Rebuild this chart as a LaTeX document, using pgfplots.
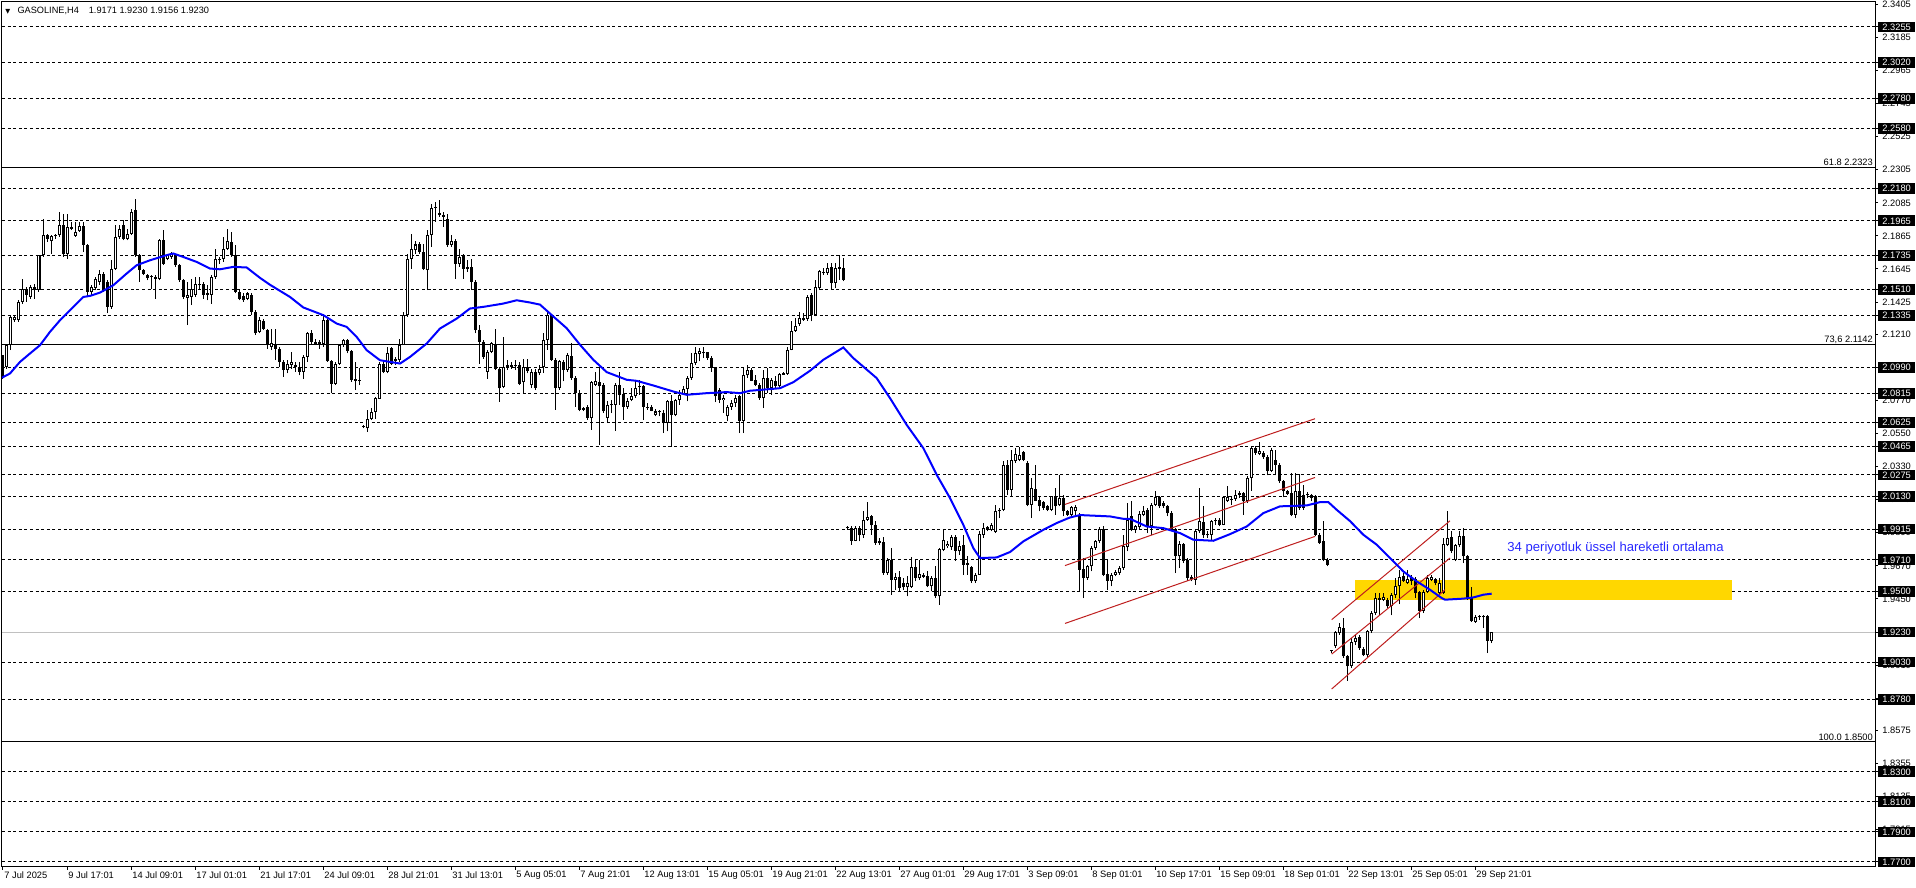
\documentclass[border=0pt]{standalone}
\usepackage{pgfplots}
\usepackage{pgfplotstable}
\pgfplotsset{compat=1.18}
\usepackage{fontspec}
\setmainfont{Liberation Sans}
\newfontfamily\dejavu{DejaVu Sans}
\definecolor{emablue}{RGB}{0,0,255}
\definecolor{chanred}{RGB}{190,30,30}
\definecolor{zone}{RGB}{255,215,0}
\definecolor{txtblue}{RGB}{40,40,255}
\definecolor{curgray}{RGB}{192,192,192}

\pgfplotstableread{
o h l c
2.1072 2.1072 2.0916 2.0927
2.0994 2.1149 2.0983 2.1138
2.1138 2.1338 2.1105 2.1326
2.1304 2.1338 2.1293 2.1326
2.1304 2.1437 2.1293 2.1426
2.1426 2.1581 2.1415 2.1515
2.1515 2.1526 2.1426 2.1471
2.1459 2.1537 2.1448 2.1526
2.1526 2.1548 2.1448 2.1504
2.1504 2.1737 2.1493 2.1737
2.1737 2.1980 2.1725 2.1870
2.1870 2.1881 2.1825 2.1847
2.1830 2.1870 2.1748 2.1863
2.1863 2.1881 2.1847 2.1874
2.1870 2.2025 2.1859 2.1936
2.1936 2.2014 2.1725 2.1748
2.1748 2.2014 2.1714 2.1925
2.1914 2.1958 2.1903 2.1925
2.1865 2.1958 2.1859 2.1892
2.1896 2.1958 2.1892 2.1932
2.1932 2.1958 2.1759 2.1803
2.1803 2.1814 2.1459 2.1493
2.1493 2.1537 2.1471 2.1526
2.1519 2.1592 2.1504 2.1581
2.1559 2.1637 2.1537 2.1615
2.1615 2.1626 2.1493 2.1504
2.1559 2.1570 2.1349 2.1393
2.1393 2.1703 2.1382 2.1648
2.1648 2.1936 2.1637 2.1859
2.1859 2.1936 2.1847 2.1914
2.1936 2.1969 2.1836 2.1847
2.1847 2.1914 2.1836 2.1881
2.1881 2.2047 2.1870 2.2025
2.2036 2.2113 2.1725 2.1737
2.1737 2.1748 2.1559 2.1637
2.1637 2.1648 2.1604 2.1615
2.1604 2.1615 2.1570 2.1586
2.1599 2.1608 2.1515 2.1592
2.1592 2.1604 2.1448 2.1577
2.1581 2.1847 2.1570 2.1836
2.1836 2.1903 2.1670 2.1681
2.1714 2.1748 2.1703 2.1737
2.1725 2.1759 2.1714 2.1748
2.1737 2.1748 2.1659 2.1670
2.1670 2.1681 2.1559 2.1570
2.1570 2.1581 2.1448 2.1459
2.1453 2.1559 2.1271 2.1471
2.1459 2.1581 2.1404 2.1515
2.1471 2.1592 2.1459 2.1548
2.1548 2.1592 2.1515 2.1537
2.1548 2.1559 2.1448 2.1471
2.1482 2.1537 2.1437 2.1475
2.1475 2.1604 2.1415 2.1592
2.1592 2.1781 2.1581 2.1714
2.1703 2.1725 2.1681 2.1714
2.1714 2.1859 2.1692 2.1781
2.1781 2.1914 2.1770 2.1830
2.1825 2.1892 2.1725 2.1737
2.1737 2.1803 2.1482 2.1493
2.1493 2.1504 2.1437 2.1448
2.1466 2.1482 2.1426 2.1437
2.1448 2.1493 2.1437 2.1482
2.1475 2.1482 2.1338 2.1360
2.1360 2.1371 2.1205 2.1216
2.1227 2.1326 2.1216 2.1304
2.1298 2.1315 2.1238 2.1249
2.1238 2.1249 2.1116 2.1138
2.1127 2.1249 2.1105 2.1154
2.1138 2.1249 2.1038 2.1116
2.1116 2.1127 2.0994 2.1027
2.1027 2.1038 2.0927 2.0972
2.0972 2.1038 2.0950 2.1016
2.1005 2.1094 2.0983 2.1027
2.1005 2.1027 2.0961 2.0994
2.0994 2.1027 2.0938 2.0961
2.0961 2.1072 2.0916 2.1060
2.1060 2.1227 2.1027 2.1216
2.1216 2.1238 2.1149 2.1160
2.1160 2.1182 2.1138 2.1149
2.1156 2.1171 2.1116 2.1149
2.1149 2.1338 2.1127 2.1304
2.1304 2.1326 2.1027 2.1032
2.1032 2.1038 2.0817 2.0883
2.0883 2.1027 2.0872 2.1016
2.1016 2.1149 2.1005 2.1138
2.1138 2.1182 2.1127 2.1171
2.1171 2.1182 2.1083 2.1098
2.1098 2.1105 2.0894 2.0905
2.0910 2.1027 2.0839 2.0903
2.0905 2.0987 2.0872 2.0899
2.0595 2.0606 2.0584 2.0595
2.0584 2.0706 2.0562 2.0650
2.0650 2.0717 2.0639 2.0695
2.0695 2.0794 2.0650 2.0788
2.0783 2.1027 2.0779 2.1016
2.1016 2.1038 2.0950 2.0961
2.0961 2.1127 2.0950 2.1083
2.1120 2.1127 2.1005 2.1016
2.1032 2.1060 2.1005 2.1043
2.1038 2.1182 2.1027 2.1142
2.1138 2.1360 2.1138 2.1338
2.1338 2.1748 2.1326 2.1714
2.1714 2.1881 2.1648 2.1781
2.1770 2.1830 2.1748 2.1808
2.1808 2.1825 2.1748 2.1759
2.1759 2.1814 2.1637 2.1648
2.1637 2.1903 2.1504 2.1870
2.1870 2.2080 2.1792 2.2051
2.2051 2.2091 2.1958 2.2058
2.2020 2.2102 2.1992 2.2007
2.2003 2.2025 2.1925 2.1992
2.1980 2.2014 2.1792 2.1803
2.1803 2.1870 2.1792 2.1830
2.1830 2.1847 2.1581 2.1681
2.1681 2.1781 2.1659 2.1725
2.1737 2.1748 2.1581 2.1648
2.1655 2.1703 2.1626 2.1643
2.1655 2.1714 2.1504 2.1559
2.1559 2.1570 2.1216 2.1238
2.1238 2.1271 2.1016 2.1160
2.1160 2.1171 2.1049 2.1060
2.0961 2.1105 2.0916 2.1094
2.1094 2.1160 2.1083 2.1154
2.1149 2.1249 2.0972 2.0983
2.0983 2.0994 2.0761 2.0850
2.0861 2.1193 2.0850 2.0994
2.0994 2.1038 2.0972 2.1005
2.1005 2.1027 2.0983 2.0994
2.1009 2.1038 2.0972 2.0998
2.1005 2.1027 2.0872 2.0883
2.0890 2.1049 2.0817 2.0994
2.0994 2.1049 2.0950 2.0965
2.0872 2.0983 2.0850 2.0961
2.0961 2.0983 2.0839 2.0854
2.0950 2.1005 2.0938 2.0983
2.0996 2.1218 2.0952 2.1174
2.1174 2.1362 2.1107 2.1340
2.1336 2.1345 2.1034 2.1041
2.1041 2.1052 2.0708 2.0852
2.0852 2.1041 2.0841 2.1030
2.1025 2.1041 2.0897 2.0974
2.0974 2.1085 2.0963 2.1074
2.1063 2.1152 2.0908 2.0919
2.0923 2.0930 2.0730 2.0819
2.0819 2.0841 2.0697 2.0708
2.0719 2.0730 2.0697 2.0708
2.0726 2.0742 2.0642 2.0653
2.0653 2.0897 2.0575 2.0890
2.0875 2.0963 2.0864 2.0897
2.0890 2.0996 2.0475 2.0864
2.0875 2.0886 2.0686 2.0697
2.0653 2.0764 2.0620 2.0742
2.0737 2.0775 2.0686 2.0746
2.0742 2.0886 2.0568 2.0875
2.0875 2.0963 2.0742 2.0808
2.0812 2.0852 2.0642 2.0730
2.0730 2.0786 2.0715 2.0764
2.0775 2.0852 2.0764 2.0801
2.0797 2.0897 2.0786 2.0852
2.0857 2.0908 2.0808 2.0868
2.0868 2.0875 2.0642 2.0730
2.0730 2.0753 2.0708 2.0719
2.0730 2.0742 2.0697 2.0702
2.0671 2.0715 2.0664 2.0697
2.0693 2.0708 2.0664 2.0699
2.0686 2.0708 2.0553 2.0620
2.0620 2.0775 2.0564 2.0764
2.0768 2.0808 2.0464 2.0671
2.0671 2.0781 2.0664 2.0773
2.0775 2.0841 2.0742 2.0808
2.0812 2.0864 2.0808 2.0848
2.0848 2.0930 2.0764 2.0919
2.0919 2.1085 2.0908 2.1019
2.1019 2.1129 2.1008 2.1085
2.1078 2.1118 2.1030 2.1101
2.1083 2.1129 2.1052 2.1090
2.1090 2.1096 2.1041 2.1052
2.1052 2.1063 2.0963 2.0985
2.0990 2.0996 2.0759 2.0797
2.0841 2.0852 2.0753 2.0775
2.0775 2.0808 2.0686 2.0790
2.0664 2.0742 2.0631 2.0730
2.0730 2.0775 2.0708 2.0753
2.0753 2.0808 2.0730 2.0790
2.0797 2.0808 2.0553 2.0635
2.0635 2.0996 2.0553 2.0941
2.0937 2.1008 2.0919 2.0970
2.0974 2.0985 2.0897 2.0901
2.0908 2.0941 2.0864 2.0875
2.0875 2.0886 2.0775 2.0786
2.0786 2.0974 2.0719 2.0923
2.0923 2.0985 2.0819 2.0852
2.0852 2.0919 2.0808 2.0908
2.0901 2.0930 2.0852 2.0864
2.0864 2.0952 2.0852 2.0945
2.0941 2.0963 2.0941 2.0952
2.0945 2.1123 2.0941 2.1107
2.1107 2.1296 2.1103 2.1234
2.1234 2.1318 2.1229 2.1269
2.1278 2.1362 2.1269 2.1318
2.1318 2.1351 2.1300 2.1307
2.1313 2.1473 2.1300 2.1462
2.1473 2.1484 2.1296 2.1340
2.1340 2.1573 2.1329 2.1522
2.1518 2.1639 2.1506 2.1633
2.1617 2.1650 2.1606 2.1624
2.1617 2.1684 2.1606 2.1650
2.1655 2.1684 2.1506 2.1551
2.1551 2.1684 2.1517 2.1650
2.1655 2.1739 2.1573 2.1646
2.1650 2.1717 2.1562 2.1573
1.9921 1.9932 1.9910 1.9921
1.9921 1.9932 1.9810 1.9837
1.9837 1.9932 1.9833 1.9921
1.9921 1.9932 1.9833 1.9873
1.9873 2.0032 1.9855 1.9977
1.9977 2.0094 1.9970 1.9992
1.9999 2.0010 1.9877 1.9939
1.9943 1.9966 1.9810 1.9822
1.9833 1.9855 1.9810 1.9822
1.9828 1.9859 1.9611 1.9622
1.9622 1.9722 1.9611 1.9711
1.9711 1.9788 1.9478 1.9578
1.9578 1.9622 1.9511 1.9595
1.9593 1.9633 1.9500 1.9522
1.9555 1.9589 1.9511 1.9527
1.9527 1.9600 1.9467 1.9555
1.9527 1.9726 1.9522 1.9660
1.9660 1.9711 1.9567 1.9589
1.9589 1.9711 1.9578 1.9615
1.9606 1.9622 1.9589 1.9597
1.9600 1.9633 1.9527 1.9533
1.9533 1.9600 1.9500 1.9589
1.9589 1.9666 1.9456 1.9467
1.9467 1.9788 1.9412 1.9782
1.9777 1.9910 1.9766 1.9839
1.9799 1.9833 1.9788 1.9815
1.9793 1.9877 1.9777 1.9859
1.9859 1.9877 1.9704 1.9771
1.9766 1.9833 1.9744 1.9799
1.9810 1.9873 1.9611 1.9677
1.9688 1.9733 1.9611 1.9677
1.9660 1.9666 1.9555 1.9567
1.9567 1.9622 1.9555 1.9606
1.9611 1.9899 1.9611 1.9881
1.9877 1.9955 1.9855 1.9921
1.9926 1.9932 1.9899 1.9910
1.9910 1.9955 1.9899 1.9939
1.9895 2.0076 1.9888 2.0032
2.0032 2.0054 1.9988 2.0043
2.0043 2.0365 2.0032 2.0338
2.0338 2.0376 2.0143 2.0176
2.0176 2.0442 2.0132 2.0376
2.0365 2.0454 2.0354 2.0414
2.0376 2.0458 2.0365 2.0409
2.0427 2.0436 2.0365 2.0376
2.0354 2.0365 2.0065 2.0076
2.0076 2.0254 1.9988 2.0187
2.0183 2.0343 2.0099 2.0103
2.0110 2.0132 2.0032 2.0065
2.0094 2.0099 2.0043 2.0054
2.0065 2.0076 2.0032 2.0043
2.0043 2.0138 2.0032 2.0132
2.0132 2.0187 2.0010 2.0065
2.0072 2.0276 2.0065 2.0121
2.0121 2.0143 1.9999 2.0032
2.0032 2.0043 1.9999 2.0010
2.0010 2.0065 1.9988 2.0059
2.0032 2.0076 2.0010 2.0059
2.0010 2.0021 1.9500 1.9644
1.9651 1.9722 1.9456 1.9589
1.9589 1.9677 1.9578 1.9666
1.9666 1.9800 1.9633 1.9788
1.9788 1.9844 1.9777 1.9833
1.9833 1.9926 1.9822 1.9915
1.9915 1.9932 1.9600 1.9611
1.9615 1.9711 1.9511 1.9571
1.9571 1.9622 1.9533 1.9611
1.9611 1.9644 1.9600 1.9629
1.9622 1.9666 1.9611 1.9655
1.9655 1.9877 1.9644 1.9800
1.9793 2.0088 1.9766 1.9977
1.9999 2.0099 1.9899 1.9910
1.9910 1.9944 1.9888 1.9932
1.9926 2.0032 1.9917 2.0015
2.0010 2.0066 1.9999 2.0037
2.0043 2.0054 1.9888 1.9932
1.9932 2.0088 1.9877 2.0077
2.0077 2.0165 2.0066 2.0125
2.0125 2.0132 2.0054 2.0066
2.0088 2.0099 2.0054 2.0066
2.0066 2.0077 1.9999 2.0021
2.0021 2.0032 1.9899 1.9910
1.9915 1.9921 1.9622 1.9733
1.9733 1.9833 1.9655 1.9815
1.9815 1.9822 1.9689 1.9704
1.9711 1.9722 1.9571 1.9589
1.9593 1.9611 1.9567 1.9584
1.9578 1.9910 1.9544 1.9899
1.9899 2.0187 1.9888 1.9970
1.9961 2.0066 1.9855 1.9873
1.9881 1.9899 1.9855 1.9873
1.9877 1.9977 1.9844 1.9970
1.9966 1.9988 1.9944 1.9970
1.9977 1.9988 1.9932 1.9944
1.9944 2.0130 1.9939 2.0125
2.0099 2.0199 2.0094 2.0125
2.0108 2.0132 2.0077 2.0116
2.0116 2.0176 2.0103 2.0143
2.0143 2.0165 2.0121 2.0154
2.0154 2.0161 2.0010 2.0099
2.0099 2.0265 2.0088 2.0254
2.0254 2.0465 2.0170 2.0453
2.0453 2.0465 2.0409 2.0420
2.0414 2.0493 2.0405 2.0431
2.0420 2.0431 2.0383 2.0391
2.0391 2.0409 2.0272 2.0303
2.0303 2.0453 2.0294 2.0442
2.0376 2.0442 2.0272 2.0343
2.0343 2.0354 2.0221 2.0232
2.0236 2.0243 2.0125 2.0165
2.0165 2.0176 2.0143 2.0148
2.0154 2.0287 1.9999 2.0006
2.0010 2.0287 1.9988 2.0165
2.0165 2.0281 2.0043 2.0054
2.0143 2.0210 2.0043 2.0054
2.0139 2.0161 2.0121 2.0148
2.0139 2.0148 2.0099 2.0121
2.0132 2.0143 1.9866 1.9877
1.9877 1.9888 1.9815 1.9822
1.9833 1.9966 1.9700 1.9711
1.9711 1.9722 1.9666 1.9677
1.9101 1.9112 1.9090 1.9101
1.9134 1.9239 1.9123 1.9230
1.9223 1.9290 1.9212 1.9261
1.9256 1.9323 1.9057 1.9068
1.9068 1.9079 1.8906 1.9001
1.9001 1.9190 1.8990 1.9163
1.9163 1.9212 1.9146 1.9190
1.9194 1.9212 1.9112 1.9123
1.9119 1.9128 1.9068 1.9075
1.9075 1.9245 1.9061 1.9234
1.9234 1.9367 1.9223 1.9356
1.9356 1.9489 1.9345 1.9456
1.9445 1.9489 1.9345 1.9456
1.9445 1.9489 1.9434 1.9460
1.9445 1.9456 1.9389 1.9400
1.9400 1.9489 1.9341 1.9474
1.9474 1.9589 1.9456 1.9534
1.9534 1.9644 1.9416 1.9593
1.9600 1.9622 1.9562 1.9571
1.9556 1.9644 1.9549 1.9584
1.9593 1.9611 1.9545 1.9567
1.9584 1.9593 1.9456 1.9489
1.9494 1.9500 1.9323 1.9372
1.9372 1.9511 1.9356 1.9496
1.9496 1.9607 1.9489 1.9589
1.9578 1.9611 1.9567 1.9593
1.9584 1.9589 1.9540 1.9556
1.9489 1.9589 1.9478 1.9556
1.9489 1.9855 1.9482 1.9815
1.9811 2.0032 1.9800 1.9855
1.9859 1.9899 1.9755 1.9766
1.9711 1.9815 1.9700 1.9811
1.9806 1.9899 1.9793 1.9866
1.9866 1.9921 1.9689 1.9733
1.9733 1.9744 1.9445 1.9456
1.9456 1.9527 1.9296 1.9301
1.9296 1.9345 1.9290 1.9327
1.9327 1.9345 1.9312 1.9334
1.9327 1.9345 1.9256 1.9334
1.9334 1.9345 1.9090 1.9172
1.9171 1.9230 1.9156 1.9230
}\candles

\pgfplotstableread{
x y
-0.25 2.0922
1.75 2.0950
4.25 2.1027
6.75 2.1083
9.25 2.1138
11.75 2.1227
14.25 2.1304
16.75 2.1371
20.08 2.1459
21.75 2.1466
24.25 2.1488
27.58 2.1537
30.92 2.1615
33.42 2.1670
36.75 2.1703
40.92 2.1737
42.58 2.1748
45.08 2.1725
48.42 2.1692
51.75 2.1648
54.25 2.1643
57.58 2.1659
60.92 2.1655
64.25 2.1586
66.75 2.1540
71.75 2.1459
75.08 2.1389
80.08 2.1338
83.42 2.1282
85.92 2.1260
88.42 2.1193
90.92 2.1105
94.25 2.1038
99.25 2.1016
101.75 2.1060
105.92 2.1149
109.25 2.1249
113.42 2.1315
116.75 2.1382
120.08 2.1393
125.08 2.1415
128.42 2.1437
131.75 2.1422
134.25 2.1408
137.58 2.1329
140.92 2.1251
144.25 2.1141
147.58 2.1041
150.92 2.0959
155.92 2.0908
158.42 2.0901
162.58 2.0870
167.58 2.0830
170.92 2.0808
175.92 2.0819
180.92 2.0826
184.25 2.0819
186.75 2.0835
192.58 2.0848
194.25 2.0852
197.58 2.0892
201.75 2.0968
205.08 2.1041
210.08 2.1123
212.58 2.1052
218.42 2.0919
221.75 2.0786
225.92 2.0608
230.08 2.0453
233.42 2.0276
236.75 2.0121
240.08 1.9943
242.58 1.9788
244.25 1.9722
248.42 1.9726
251.75 1.9762
255.08 1.9833
260.08 1.9910
263.42 1.9955
266.75 1.9992
269.25 2.0008
276.75 1.9999
280.08 1.9983
281.75 1.9983
285.92 1.9932
290.08 1.9921
294.25 1.9888
297.58 1.9844
302.58 1.9837
306.75 1.9881
310.92 1.9932
315.08 2.0021
319.25 2.0066
325.92 2.0072
329.25 2.0094
331.33 2.0094
333.42 2.0043
336.75 1.9968
340.08 1.9877
343.42 1.9811
346.75 1.9722
350.08 1.9633
353.42 1.9567
356.75 1.9511
359.67 1.9456
360.5 1.9445
365.08 1.9452
367.58 1.9460
370.08 1.9478
372.17 1.9485
}\ema

\begin{document}
\begin{tikzpicture}
\useasboundingbox (-1pt,-10.5pt) rectangle (957pt,433.5pt);
\begin{axis}[
  at={(0,0)}, anchor=south west,
  scale only axis, width=936.5pt, height=432.5pt,
  xmin=-0.25, xmax=468, ymin=1.76667, ymax=2.34213,
  axis line style={black, line width=0.5pt},
  tick align=outside,
  xtick pos=bottom, ytick pos=right,
  yticklabel pos=right,
  xtick={0,16,32,48,64,80,96,112,128,144,160,176,192,208,224,240,256,272,288,304,320,336,352,368},
  xticklabels={7 Jul 2025,9 Jul 17:01,14 Jul 09:01,17 Jul 01:01,21 Jul 17:01,24 Jul 09:01,28 Jul 21:01,31 Jul 13:01,5 Aug 05:01,7 Aug 21:01,12 Aug 13:01,15 Aug 05:01,19 Aug 21:01,22 Aug 13:01,27 Aug 01:01,29 Aug 17:01,3 Sep 09:01,8 Sep 01:01,10 Sep 17:01,15 Sep 09:01,18 Sep 01:01,22 Sep 13:01,25 Sep 05:01,29 Sep 21:01},
  ytick={2.3405,2.3185,2.2965,2.2745,2.2525,2.2305,2.2085,2.1865,2.1645,2.1425,2.1210,2.0770,2.0550,2.0330,2.0110,1.9890,1.9670,1.9450,1.9010,1.8790,1.8575,1.8355,1.8135,1.7915},
  yticklabels={2.3405,2.3185,2.2965,2.2745,2.2525,2.2305,2.2085,2.1865,2.1645,2.1425,2.1210,2.0770,2.0550,2.0330,2.0110,1.9890,1.9670,1.9450,1.9010,1.8790,1.8575,1.8355,1.8135,1.7915},
  major tick length=1.5pt,
  tick style={black, line width=0.5pt},
  tick label style={font=\fontsize{4.65}{5}\selectfont, text=black},
  xticklabel style={anchor=north west, inner xsep=0.5pt, inner ysep=0.5pt},
  yticklabel style={anchor=west, inner xsep=2pt, inner ysep=0.9pt, text height=3.4pt, text depth=0.2pt},
  extra y ticks={2.3255,2.3020,2.2780,2.2580,2.2180,2.1965,2.1735,2.1510,2.1335,2.0990,2.0815,2.0625,2.0465,2.0275,2.0130,1.9915,1.9710,1.9500,1.9230,1.9030,1.8780,1.8300,1.8100,1.7900,1.7700},
  extra y tick labels={2.3255,2.3020,2.2780,2.2580,2.2180,2.1965,2.1735,2.1510,2.1335,2.0990,2.0815,2.0625,2.0465,2.0275,2.0130,1.9915,1.9710,1.9500,1.9230,1.9030,1.8780,1.8300,1.8100,1.7900,1.7700},
  extra y tick style={yticklabel style={fill=black, text=white}},
]
% dashed levels
\pgfplotsinvokeforeach{2.3255,2.3020,2.2780,2.2580,2.2180,2.1965,2.1735,2.1510,2.1335,2.0990,2.0815,2.0625,2.0465,2.0275,2.0130,1.9915,1.9710,1.9500,1.9030,1.8780,1.8300,1.8100,1.7900,1.7700}{
  \addplot[black, line width=0.5pt, dash pattern=on 1.5pt off 1.3pt] coordinates {(-0.25,#1) (468,#1)};
}
% fibonacci levels
\pgfplotsinvokeforeach{2.2323,2.1142,1.8500}{
  \addplot[black, line width=0.5pt] coordinates {(-0.25,#1) (468,#1)};
}
\addplot[curgray, line width=0.5pt] coordinates {(-0.25,1.9230) (468,1.9230)};
% zone
\addplot[fill=zone, draw=none] coordinates {(338,1.9440) (432.25,1.9440) (432.25,1.9578) (338,1.9578)} -- cycle;
% wicks
\addplot[draw=none, mark=none, error bars/.cd, y dir=plus, y explicit, error mark=none,
  error bar style={draw=black, line width=0.5pt}]
  table[x expr=\coordindex, y=l, y error plus expr={\thisrow{h}-\thisrow{l}}] {\candles};
% bodies
\addplot[draw=none, mark=none, error bars/.cd, y dir=plus, y explicit, error mark=none,
  error bar style={draw=black, line width=1.5pt, line cap=butt}]
  table[x expr=\coordindex, y expr={min(\thisrow{o},\thisrow{c})}, y error plus expr={max(abs(\thisrow{c}-\thisrow{o}),0.0007)}] {\candles};
% hollow interior of rising candles
\addplot[draw=none, mark=none, error bars/.cd, y dir=plus, y explicit, error mark=none,
  error bar style={draw=white, line width=0.5pt, line cap=butt}]
  table[x expr=\coordindex, y expr={\thisrow{o}+0.00067}, y error plus expr={max(\thisrow{c}-\thisrow{o}-0.00134,0)}] {\candles};
% channels
\addplot[chanred, line width=0.5pt] coordinates {(265.5,2.0079) (328.0,2.0649)};
\addplot[chanred, line width=0.5pt] coordinates {(265.5,1.9672) (328.0,2.0258)};
\addplot[chanred, line width=0.5pt] coordinates {(265.5,1.9287) (328.0,1.9866)};
\addplot[chanred, line width=0.5pt] coordinates {(332.17,1.9312) (361.75,1.9970)};
\addplot[chanred, line width=0.5pt] coordinates {(332.17,1.9083) (361.75,1.9722)};
\addplot[chanred, line width=0.5pt] coordinates {(332.17,1.8851) (360.5,1.9511)};
% EMA 34
\addplot[emablue, line width=1pt] table[x=x, y=y] {\ema};
% texts
\node[anchor=south east, inner sep=0.4pt, font=\fontsize{4.65}{5}\selectfont, xshift=-0.5pt] at (axis cs:468,2.2323) {61.8 2.2323};
\node[anchor=south east, inner sep=0.4pt, font=\fontsize{4.65}{5}\selectfont, xshift=-0.5pt] at (axis cs:468,2.1142) {73,6 2.1142};
\node[anchor=south east, inner sep=0.4pt, font=\fontsize{4.65}{5}\selectfont, xshift=-0.5pt] at (axis cs:468,1.8500) {100.0 1.8500};
\node[anchor=west, inner sep=0pt, text=txtblue, font=\fontsize{6.55}{7}\selectfont] at (axis cs:376,1.9787) {34 periyotluk üssel hareketli ortalama};
\node[anchor=west, inner sep=0pt, font=\fontsize{4.6}{5}\selectfont, xshift=1.5pt, yshift=-4.3pt] at (rel axis cs:0,1) {{\dejavu\fontsize{3.2}{3.2}\selectfont ▼}\hspace{3.6pt}GASOLINE,H4\hspace{5pt}1.9171 1.9230 1.9156 1.9230};
\end{axis}
\end{tikzpicture}
\end{document}
